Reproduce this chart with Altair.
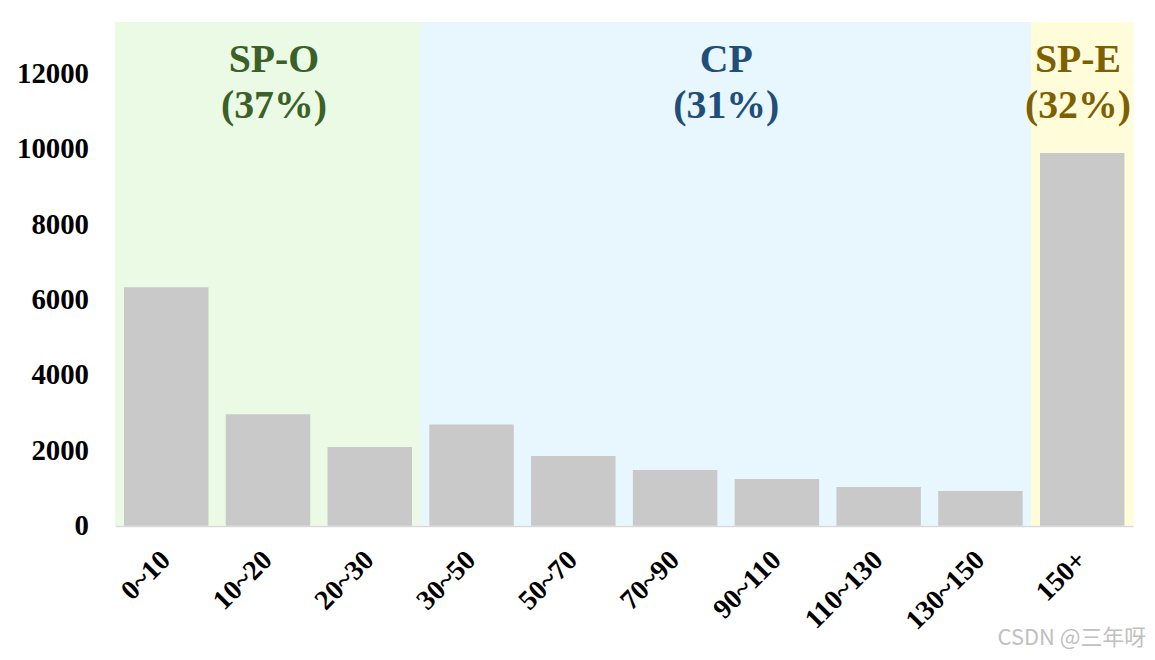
import altair as alt
import pandas as pd

categories = ["0~10", "10~20", "20~30", "30~50", "50~70", "70~90", "90~110", "110~130", "130~150", "150+"]
counts = [6330, 2960, 2090, 2690, 1850, 1480, 1240, 1030, 920, 9890]
groups = ["SP-O", "SP-O", "SP-O", "CP", "CP", "CP", "CP", "CP", "CP", "SP-E"]

group_names = ["SP-O", "CP", "SP-E"]
group_shares = ["(37%)", "(31%)", "(32%)"]
group_bg = ["#ebfae4", "#e8f6fe", "#fffdd9"]
group_fg = ["#3b6128", "#1f4e79", "#7f6000"]
label_cat = ["10~20", "70~90", "150+"]
label_band = [0.57, 1.0, 0.45]
label_dx = [0, 9, 0]
label_y = 12050

y_max = 13370
FONT = "Liberation Serif"

df = pd.DataFrame({"cat": categories, "count": counts, "group": groups, "top": [y_max] * len(categories)})

xscale = alt.Scale(domain=categories, paddingInner=0.17, paddingOuter=0.085, round=False)
yscale = alt.Scale(domain=[0, y_max], nice=False)

xenc = alt.X("cat:N", scale=xscale, sort=categories, title=None,
             axis=alt.Axis(labelAngle=-45, labelAlign="right", labelBaseline="middle",
                           labelFont=FONT, labelFontWeight="bold", labelFontSize=28,
                           labelColor="#000000", labelPadding=30, ticks=False,
                           domainColor="#d9d9d9", domainWidth=2, grid=False))
yenc = alt.Y("count:Q", scale=yscale, title=None,
             axis=alt.Axis(values=[0, 2000, 4000, 6000, 8000, 10000, 12000], format="d",
                           labelFont=FONT, labelFontWeight="bold", labelFontSize=29,
                           labelColor="#000000", labelPadding=27, ticks=False,
                           domain=False, grid=False))

bg = alt.Chart(df).mark_bar(width=alt.RelativeBandSize(1.215)).encode(
    x=xenc,
    y=alt.Y("top:Q", scale=yscale),
    color=alt.Color("group:N", scale=alt.Scale(domain=group_names, range=group_bg), legend=None),
)

bars = alt.Chart(df).mark_bar(color="#c9c9c9").encode(x=xenc, y=yenc)

layers = [bg, bars]
for name, share, fg, cat, band, dx in zip(group_names, group_shares, group_fg, label_cat, label_band, label_dx):
    ann = pd.DataFrame({"cat": [cat], "label": [name + "\n" + share], "y": [label_y]})
    layers.append(
        alt.Chart(ann).mark_text(font=FONT, fontWeight="bold", fontSize=40, color=fg,
                                 align="center", baseline="alphabetic", lineBreak="\n",
                                 lineHeight=47, dx=dx).encode(
            x=alt.X("cat:N", scale=xscale, bandPosition=band),
            y=alt.Y("y:Q", scale=yscale),
            text="label:N",
        )
    )

wm = alt.Chart(pd.DataFrame({"t": ["CSDN @三年呀"]})).mark_text(
    font="Noto Sans CJK SC", fontSize=22, color="#c0c0c0", align="right", baseline="alphabetic"
).encode(x=alt.value(1037), y=alt.value(627), text="t:N")
layers.append(wm)

chart = alt.layer(*layers).properties(
    width=1024, height=507, autosize="none",
    padding={"left": 108, "top": 12, "right": 14, "bottom": 124},
    background="#ffffff",
).configure_view(stroke=None)

chart.save("out.html", embed_options={"renderer": "svg", "actions": False})
